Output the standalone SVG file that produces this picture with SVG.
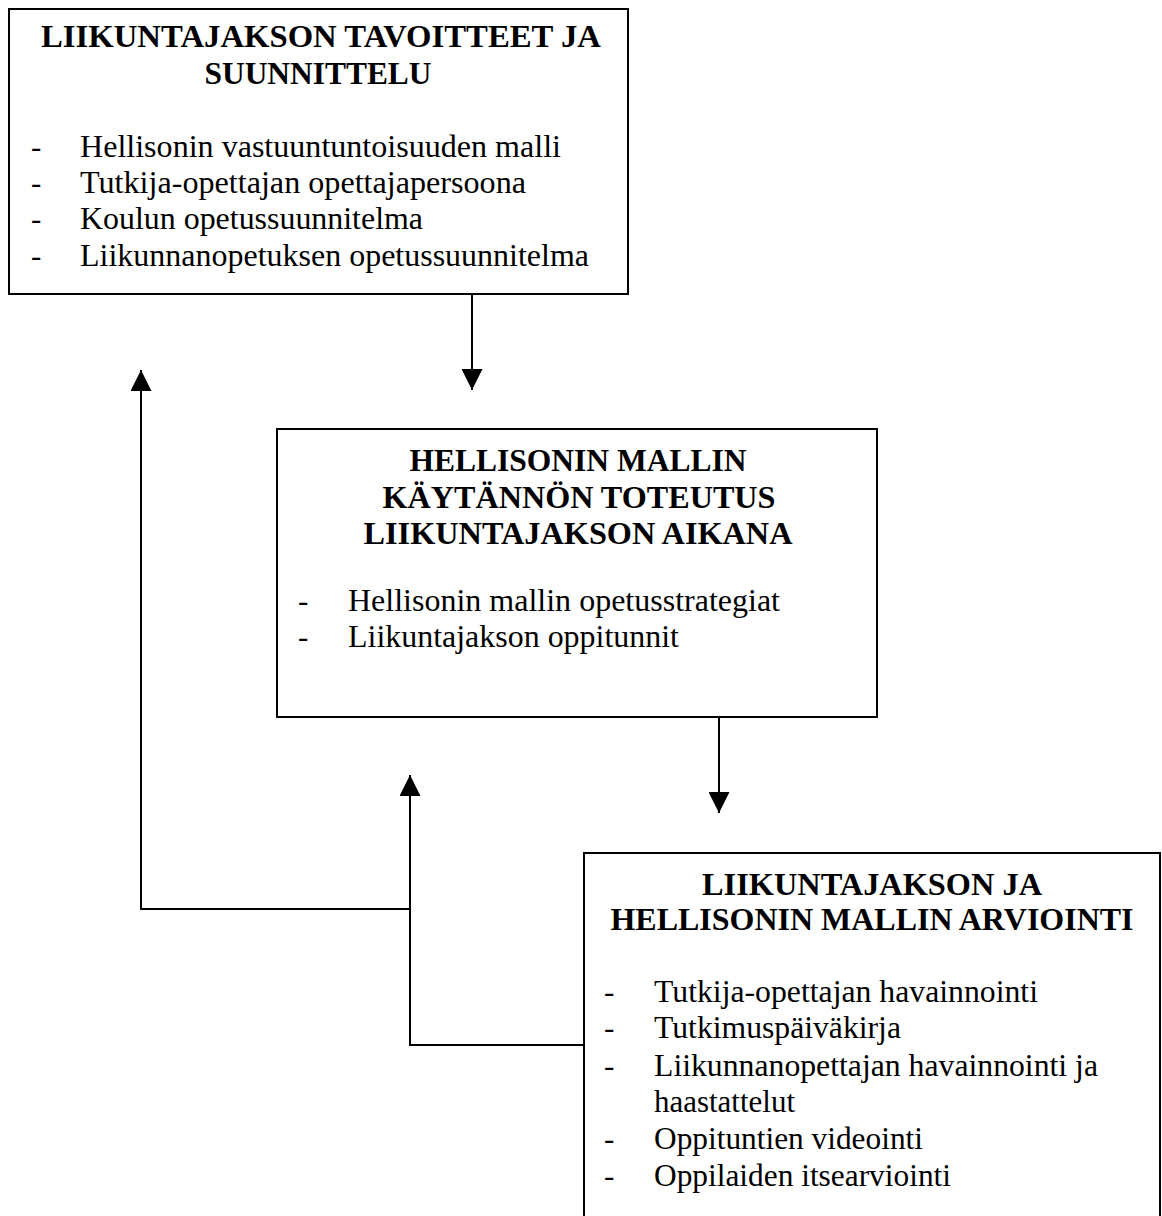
<svg xmlns="http://www.w3.org/2000/svg" width="1162" height="1216" viewBox="0 0 1162 1216">
<style>
.box{fill:#fff;stroke:#000;stroke-width:2}
.t{font-family:"Liberation Serif","Times New Roman",serif;font-weight:bold;font-size:32px;fill:#000;text-anchor:middle}
.i{font-family:"Liberation Serif","Times New Roman",serif;font-size:31px;fill:#000}
.c{fill:none;stroke:#000;stroke-width:2}
</style>
<defs>
<marker id="ah" viewBox="0 0 10 10" refX="10" refY="5" markerWidth="21" markerHeight="21" markerUnits="userSpaceOnUse" orient="auto">
<path d="M0,0 L10,5 L0,10 z" fill="#000"/>
</marker>
</defs>
<rect width="1162" height="1216" fill="#fff"/>
<g id="node-planning">
<rect class="box" x="9" y="9" width="619" height="285"/>
<text class="t" x="321" y="47" textLength="560" lengthAdjust="spacingAndGlyphs">LIIKUNTAJAKSON TAVOITTEET JA</text>
<text class="t" x="318" y="84" textLength="227" lengthAdjust="spacingAndGlyphs">SUUNNITTELU</text>
<text class="i" x="31" y="157">-</text>
<text class="i" x="80" y="157" textLength="481" lengthAdjust="spacingAndGlyphs">Hellisonin vastuuntuntoisuuden malli</text>
<text class="i" x="31" y="193">-</text>
<text class="i" x="80" y="193" textLength="446" lengthAdjust="spacingAndGlyphs">Tutkija-opettajan opettajapersoona</text>
<text class="i" x="31" y="229">-</text>
<text class="i" x="80" y="229" textLength="343" lengthAdjust="spacingAndGlyphs">Koulun opetussuunnitelma</text>
<text class="i" x="31" y="266">-</text>
<text class="i" x="80" y="266" textLength="509" lengthAdjust="spacingAndGlyphs">Liikunnanopetuksen opetussuunnitelma</text>
</g>
<g id="node-implementation">
<rect class="box" x="277" y="429" width="600" height="288"/>
<text class="t" x="578" y="471" textLength="337" lengthAdjust="spacingAndGlyphs">HELLISONIN MALLIN</text>
<text class="t" x="579" y="508" textLength="393" lengthAdjust="spacingAndGlyphs">KÄYTÄNNÖN TOTEUTUS</text>
<text class="t" x="578" y="544" textLength="429" lengthAdjust="spacingAndGlyphs">LIIKUNTAJAKSON AIKANA</text>
<text class="i" x="298" y="611">-</text>
<text class="i" x="348" y="611" textLength="432" lengthAdjust="spacingAndGlyphs">Hellisonin mallin opetusstrategiat</text>
<text class="i" x="298" y="647">-</text>
<text class="i" x="348" y="647" textLength="331" lengthAdjust="spacingAndGlyphs">Liikuntajakson oppitunnit</text>
</g>
<g id="node-evaluation">
<path class="box" d="M584,1217 L584,853 L1160,853 L1160,1217"/>
<text class="t" x="872" y="895" textLength="340" lengthAdjust="spacingAndGlyphs">LIIKUNTAJAKSON JA</text>
<text class="t" x="872" y="930" textLength="523" lengthAdjust="spacingAndGlyphs">HELLISONIN MALLIN ARVIOINTI</text>
<text class="i" x="604" y="1002">-</text>
<text class="i" x="654" y="1002" textLength="384" lengthAdjust="spacingAndGlyphs">Tutkija-opettajan havainnointi</text>
<text class="i" x="604" y="1038">-</text>
<text class="i" x="654" y="1038" textLength="247" lengthAdjust="spacingAndGlyphs">Tutkimuspäiväkirja</text>
<text class="i" x="604" y="1076">-</text>
<text class="i" x="654" y="1076" textLength="444" lengthAdjust="spacingAndGlyphs">Liikunnanopettajan havainnointi ja</text>
<text class="i" x="654" y="1112" textLength="141" lengthAdjust="spacingAndGlyphs">haastattelut</text>
<text class="i" x="604" y="1149">-</text>
<text class="i" x="654" y="1149" textLength="269" lengthAdjust="spacingAndGlyphs">Oppituntien videointi</text>
<text class="i" x="604" y="1186">-</text>
<text class="i" x="654" y="1186" textLength="297" lengthAdjust="spacingAndGlyphs">Oppilaiden itsearviointi</text>
</g>
<g id="connectors">
<path class="c" d="M472,294 L472,390" marker-end="url(#ah)"/>
<path class="c" d="M719,717 L719,813" marker-end="url(#ah)"/>
<path class="c" d="M584,1045 L410,1045 L410,775" marker-end="url(#ah)"/>
<path class="c" d="M410,909 L141,909 L141,370" marker-end="url(#ah)"/>
</g>
</svg>
